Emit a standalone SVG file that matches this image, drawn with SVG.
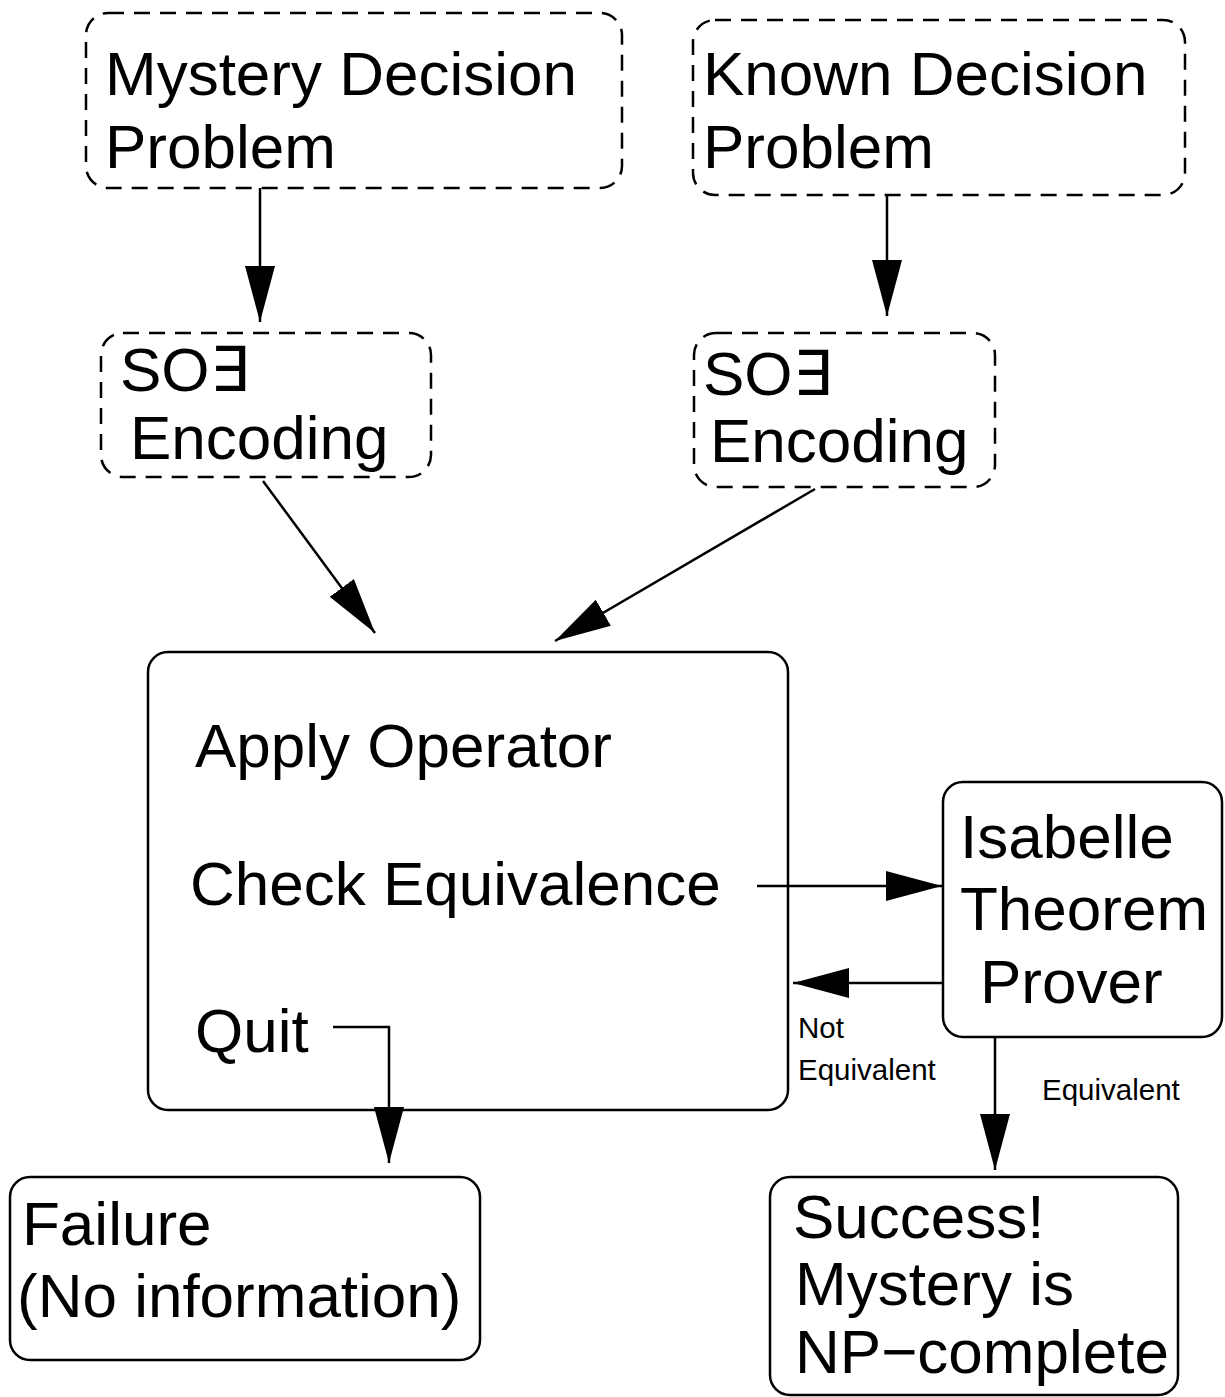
<svg xmlns="http://www.w3.org/2000/svg" width="1225" height="1397" viewBox="0 0 1225 1397">
  <style>
    .box { fill: #fff; stroke: #000; stroke-width: 2.5; }
    .dash { stroke-dasharray: 16 10; }
    .t { font-family: "Liberation Sans", Arial, sans-serif; font-size: 62px; fill: #000; }
    .s { font-family: "Liberation Sans", Arial, sans-serif; font-size: 29.5px; fill: #000; }
    .edge { fill: none; stroke: #000; stroke-width: 2.5; marker-end: url(#head); }
  </style>
  <defs>
    <marker id="head" markerUnits="userSpaceOnUse" markerWidth="60" markerHeight="32" refX="56" refY="15" orient="auto">
      <path d="M0,0 L56,15 L0,30 Z" fill="#000"/>
    </marker>
  </defs>
  <rect width="1225" height="1397" fill="#fff"/>

  <g id="mystery">
    <rect class="box dash" x="86" y="13" width="536" height="175" rx="22"/>
    <text class="t" x="105" y="95">Mystery Decision</text>
    <text class="t" x="105" y="168">Problem</text>
  </g>

  <g id="known">
    <rect class="box dash" x="693" y="20" width="492" height="175" rx="22"/>
    <text class="t" x="703" y="95">Known Decision</text>
    <text class="t" x="703" y="168">Problem</text>
  </g>

  <g id="encoding-left">
    <rect class="box dash" x="101" y="333" width="330" height="144" rx="22"/>
    <text class="t" x="120" y="391">SO∃</text>
    <text class="t" x="130" y="459">Encoding</text>
  </g>

  <g id="encoding-right">
    <rect class="box dash" x="694" y="333" width="301" height="154" rx="22"/>
    <text class="t" x="703" y="395">SO∃</text>
    <text class="t" x="710" y="462">Encoding</text>
  </g>

  <g id="main">
    <rect class="box" x="148" y="652" width="640" height="458" rx="20"/>
    <text class="t" x="195" y="767">Apply Operator</text>
    <text class="t" x="190" y="905">Check Equivalence</text>
    <text class="t" x="195" y="1052">Quit</text>
  </g>

  <g id="isabelle">
    <rect class="box" x="943" y="782" width="279" height="255" rx="20"/>
    <text class="t" x="960" y="858">Isabelle</text>
    <text class="t" x="960" y="930">Theorem</text>
    <text class="t" x="980" y="1003">Prover</text>
  </g>

  <g id="failure">
    <rect class="box" x="10" y="1177" width="470" height="183" rx="20"/>
    <text class="t" x="22" y="1245">Failure</text>
    <text class="t" x="17" y="1317">(No information)</text>
  </g>

  <g id="success">
    <rect class="box" x="770" y="1177" width="408" height="218" rx="20"/>
    <text class="t" x="793" y="1238">Success!</text>
    <text class="t" x="795" y="1305">Mystery is</text>
    <text class="t" x="795" y="1373">NP−complete</text>
  </g>

  <g id="connectors">
    <path class="edge" d="M260,188 L260,322"/>
    <path class="edge" d="M887,195 L887,316"/>
    <path class="edge" d="M263,481 L375,633"/>
    <path class="edge" d="M815,489 L555,641"/>
    <path class="edge" d="M757,886 L942,886"/>
    <path class="edge" d="M943,983 L793,983"/>
    <path class="edge" d="M995,1037 L995,1170"/>
    <path class="edge" d="M333,1027 L389,1027 L389,1163"/>
    <text class="s" x="798" y="1038">Not</text>
    <text class="s" x="798" y="1080">Equivalent</text>
    <text class="s" x="1042" y="1100">Equivalent</text>
  </g>
</svg>
